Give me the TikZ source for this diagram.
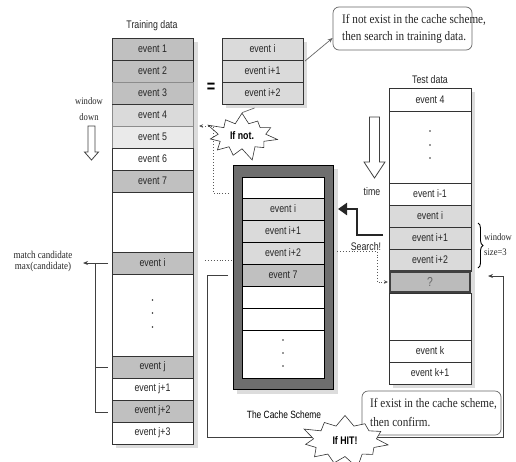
\documentclass[tikz,border=0pt]{standalone}
\usepackage{fontspec}
\setmainfont[FakeStretch=0.8]{Liberation Sans}
\newfontfamily\nserif[FakeStretch=0.86]{Liberation Serif}
\usetikzlibrary{shapes.symbols,arrows.meta,decorations.pathreplacing,calc}
\definecolor{gA}{HTML}{C0C0C0}
\definecolor{gB}{HTML}{DADADA}
\definecolor{gC}{HTML}{EAEAEA}
\definecolor{gD}{HTML}{6E6E6E}
\definecolor{gQ}{HTML}{BBBBBB}
\definecolor{shd}{HTML}{DCDCDC}
\begin{document}
\begin{tikzpicture}[x=1pt,y=-1pt,
  cell/.style={draw=black!80, line width=0.8pt, minimum width=81pt, minimum height=22pt,
    inner sep=0pt, outer sep=0pt, font=\fontsize{11}{12}\selectfont, text=black!85},
  ccell/.style={cell, minimum width=82pt, line width=1pt, draw=black},
  tcell/.style={cell, minimum width=82pt},
  lbl/.style={font=\fontsize{11}{12}\selectfont, text=black!85, inner sep=0pt},
  stxt/.style={font=\nserif\fontsize{13}{15}\selectfont, text=black!85, inner sep=0pt},
  ssm/.style={font=\nserif\fontsize{10}{11}\selectfont, text=black!85, inner sep=0pt},
  callout/.style={draw=black!60, fill=white, rounded corners=6pt, line width=0.7pt},
  burst/.style={starburst, draw=black!80, fill=white, line width=0.6pt, starburst points=11,
    starburst point height=14pt, font=\bfseries\fontsize{11}{12}\selectfont},
  dotline/.style={dotted, line width=0.9pt, draw=black!65},
  conn/.style={line width=0.9pt, draw=black!75},
  hollow/.style={draw=black!75, fill=white, line width=0.8pt},
  dotpt/.style={circle, fill=black!80, inner sep=0pt, minimum size=1.8pt}
]
\useasboundingbox (0,0) rectangle (516,461);

% ---------------- Training data ----------------
\fill[shd] (116,42) rectangle (198,448);
\node[lbl] (tlabel) at (152,26) {Training data};
\node[cell, fill=gA] (t1) at (152.5,49) {event 1};
\node[cell, fill=gA] (t2) at (152.5,71) {event 2};
\node[cell, fill=gA, draw=black!45] (t3) at (152.5,93) {event 3};
\node[cell, fill=gB, draw=black!45] (t4) at (152.5,115) {event 4};
\node[cell, fill=gC, draw=black!45] (t5) at (152.5,137) {event 5};
\draw[black!80, line width=0.8pt] (t3.south west) -- (t3.south east);
\node[cell, fill=white] (t6) at (152.5,159) {event 6};
\node[cell, fill=gA] (t7) at (152.5,181) {event 7};
\node[cell, fill=white, minimum height=60pt] (tb) at (152.5,222) {};
\node[cell, fill=gA] (ti) at (152.5,263) {event i};
\node[cell, fill=white, minimum height=82pt] (tdots) at (152.5,315) {};
\node[dotpt] (td1) at (152.5,300) {};
\node[dotpt] (td2) at (152.5,313) {};
\node[dotpt] (td3) at (152.5,327) {};
\node[cell, fill=gA] (tj) at (152.5,367) {event j};
\node[cell, fill=white] (tj1) at (152.5,389) {event j+1};
\node[cell, fill=gA] (tj2) at (152.5,411) {event j+2};
\node[cell, fill=white] (tj3) at (152.5,433) {event j+3};

% window down
\node[ssm] (wd1) at (89,101) {window};
\node[ssm] (wd2) at (89,117) {down};
\draw[hollow] (88,126) -- (95,126) -- (95,152) -- (98.5,152) -- (91.5,160) -- (84.5,152) -- (88,152) -- cycle;

% match candidate
\node[ssm, font=\nserif\fontsize{10.5}{11}\selectfont] (mc1) at (43,255) {match candidate};
\node[ssm, font=\nserif\fontsize{10.5}{11}\selectfont] (mc2) at (43,267) {max(candidate)};
\coordinate (mcA) at (108,263);
\coordinate (mcB) at (95,263);
\coordinate (mcT) at (83,263);
\coordinate (mcJ) at (108,367);
\coordinate (mcJ2) at (108,412);
\draw[conn, -{Stealth[length=5pt,width=4pt]}] (mcA) -- (mcT);
\draw[conn] (mcB) -- (mcB |- mcJ2) -- (mcJ2);
\draw[conn] (mcB |- mcJ) -- (mcJ);

% ---------------- equals & query box ----------------
\node[font=\bfseries\fontsize{18}{18}\selectfont, inner sep=0pt] (eq) at (211,88) {=};
\fill[shd] (226,42) rectangle (307,108);
\node[cell, fill=gB] (q1) at (262.5,49) {event i};
\node[cell, fill=gB] (q2) at (262.5,71) {event i+1};
\node[cell, fill=gB] (q3) at (262.5,93) {event i+2};

% top callout
\node[callout, minimum width=139pt, minimum height=43pt] (co1) at (402.5,28.5) {};
\node[stxt, anchor=west] (co1a) at (342,20) {If not exist in the cache scheme,};
\node[stxt, anchor=west] (co1b) at (342,37) {then search in training data.};
\draw[line width=0.7pt, black!60, -{Stealth[length=5pt,width=4pt]}] ($(q1.east)+(2,12)$) -- (co1.west |- 0,38);

% If not burst
\node[burst, inner xsep=5pt, inner ysep=5pt] (ifnot) at (242,136) {If not.};
\draw[line width=0.7pt, black!60] ($(q3.south)+(-8,4)$) -- (ifnot.north) ;

% ---------------- Cache scheme ----------------
\fill[shd] (237,169) rectangle (338,394);
\node[draw=black, fill=gD, line width=0.8pt, minimum width=100pt, minimum height=224pt, inner sep=0pt] (cache) at (283,277) {};
\node[ccell, fill=white, minimum height=21pt] (c0) at (283,187.5) {};
\node[ccell, fill=gB] (c1) at (283,209) {event i};
\node[ccell, fill=gB] (c2) at (283,231) {event i+1};
\node[ccell, fill=gB] (c3) at (283,253) {event i+2};
\node[ccell, fill=gA] (c4) at (283,275) {event 7};
\node[ccell, fill=white] (c5) at (283,297) {};
\node[ccell, fill=white] (c6) at (283,319) {};
\node[ccell, fill=white, minimum height=48pt] (cdots) at (283,354) {};
\node[dotpt] (cd1) at (283,340) {};
\node[dotpt] (cd2) at (283,353) {};
\node[dotpt] (cd3) at (283,366) {};
\node[lbl, font=\fontsize{10.5}{12}\selectfont, text=black] (clabel) at (284,415) {The Cache Scheme};

% dotted: cache -> training (If not)
\coordinate (dn1) at (229,193);
\coordinate (dn2) at (213,193);
\coordinate (dn3) at (199,126);
\draw[dotline, -{Stealth[length=4pt,width=3.5pt]}] (dn1) -- (dn2) -- (dn2 |- dn3) -- (dn3);
% dotted: training event i -> cache
\coordinate (dt1) at (205,260);
\coordinate (dt2) at (233,260);
\draw[dotline] (dt1) -- (dt2);

% ---------------- Test data ----------------
\fill[shd] (393,92) rectangle (475,388);
\node[lbl] (tdlabel) at (430,80) {Test data};
\node[tcell, fill=white, minimum height=23pt] (s4) at (430,99.5) {event 4};
\node[tcell, fill=white, minimum height=72pt] (sdots) at (430,147) {};
\node[dotpt] (sd1) at (430,131) {};
\node[dotpt] (sd2) at (430,145) {};
\node[dotpt] (sd3) at (430,158) {};
\node[tcell, fill=white] (sim1) at (430,194) {event i-1};
\node[tcell, fill=gB] (si) at (430,216) {event i};
\node[tcell, fill=gB] (si1) at (430,238) {event i+1};
\node[tcell, fill=gB] (si2) at (430,260) {event i+2};
\node[tcell, fill=gQ, draw=black!75, line width=2.2pt, minimum width=80pt, minimum height=21pt, font=\fontsize{13}{13}\selectfont, text=black!60] (sq) at (430,282) {?};
\node[tcell, fill=white, minimum height=47pt] (sb) at (430,316.5) {};
\node[tcell, fill=white] (sk) at (430,351) {event k};
\node[tcell, fill=white] (sk1) at (430,373) {event k+1};

% time arrow
\draw[hollow] (369.5,117) -- (379.5,117) -- (379.5,162) -- (385,162) -- (374.5,178) -- (364,162) -- (369.5,162) -- cycle;
\node[lbl] (time) at (372,192) {time};

% window size brace
\draw[line width=0.9pt, decorate, decoration={brace, amplitude=5pt}] (478,223) -- (478,268);
\node[ssm, anchor=west] (ws1) at (484,237) {window};
\node[ssm, anchor=west] (ws2) at (484,252) {size=3};

% Search arrow
\coordinate (sa1) at (383,235);
\coordinate (sa2) at (357,235);
\coordinate (sa3) at (338,209);
\draw[line width=2.6pt, black!85, -{Triangle[length=9pt,width=12pt]}] (sa1) -- (sa2) -- (sa2 |- sa3) -- (sa3);
\node[lbl] (search) at (366,247) {Search!};

% dotted: cache -> ?
\coordinate (dq1) at (337,251);
\coordinate (dq2) at (377,251);
\coordinate (dq3) at (388,282);
\draw[dotline, -{Stealth[length=4pt,width=3.5pt]}] (dq1) -- (dq2) -- (dq2 |- dq3) -- (dq3);

% HIT loop
\coordinate (h1) at (228,275);
\coordinate (h2) at (207,437);
\coordinate (h3) at (503,437);
\coordinate (h4) at (488,276);
\draw[conn, -{Stealth[length=5pt,width=4pt]}] (h1) -- (h2 |- h1) -- (h2) -- (h3) -- (h3 |- h4) -- (h4);

% bottom callout
\node[callout, minimum width=139pt, minimum height=44pt] (co2) at (431.5,413) {};
\node[stxt, anchor=west] (co2a) at (370,404) {If exist in the cache scheme,};
\node[stxt, anchor=west] (co2b) at (370,422) {then confirm.};

% If HIT burst
\node[burst, inner xsep=10pt, inner ysep=7pt] (hit) at (345,441) {If HIT!};
\end{tikzpicture}
\end{document}
